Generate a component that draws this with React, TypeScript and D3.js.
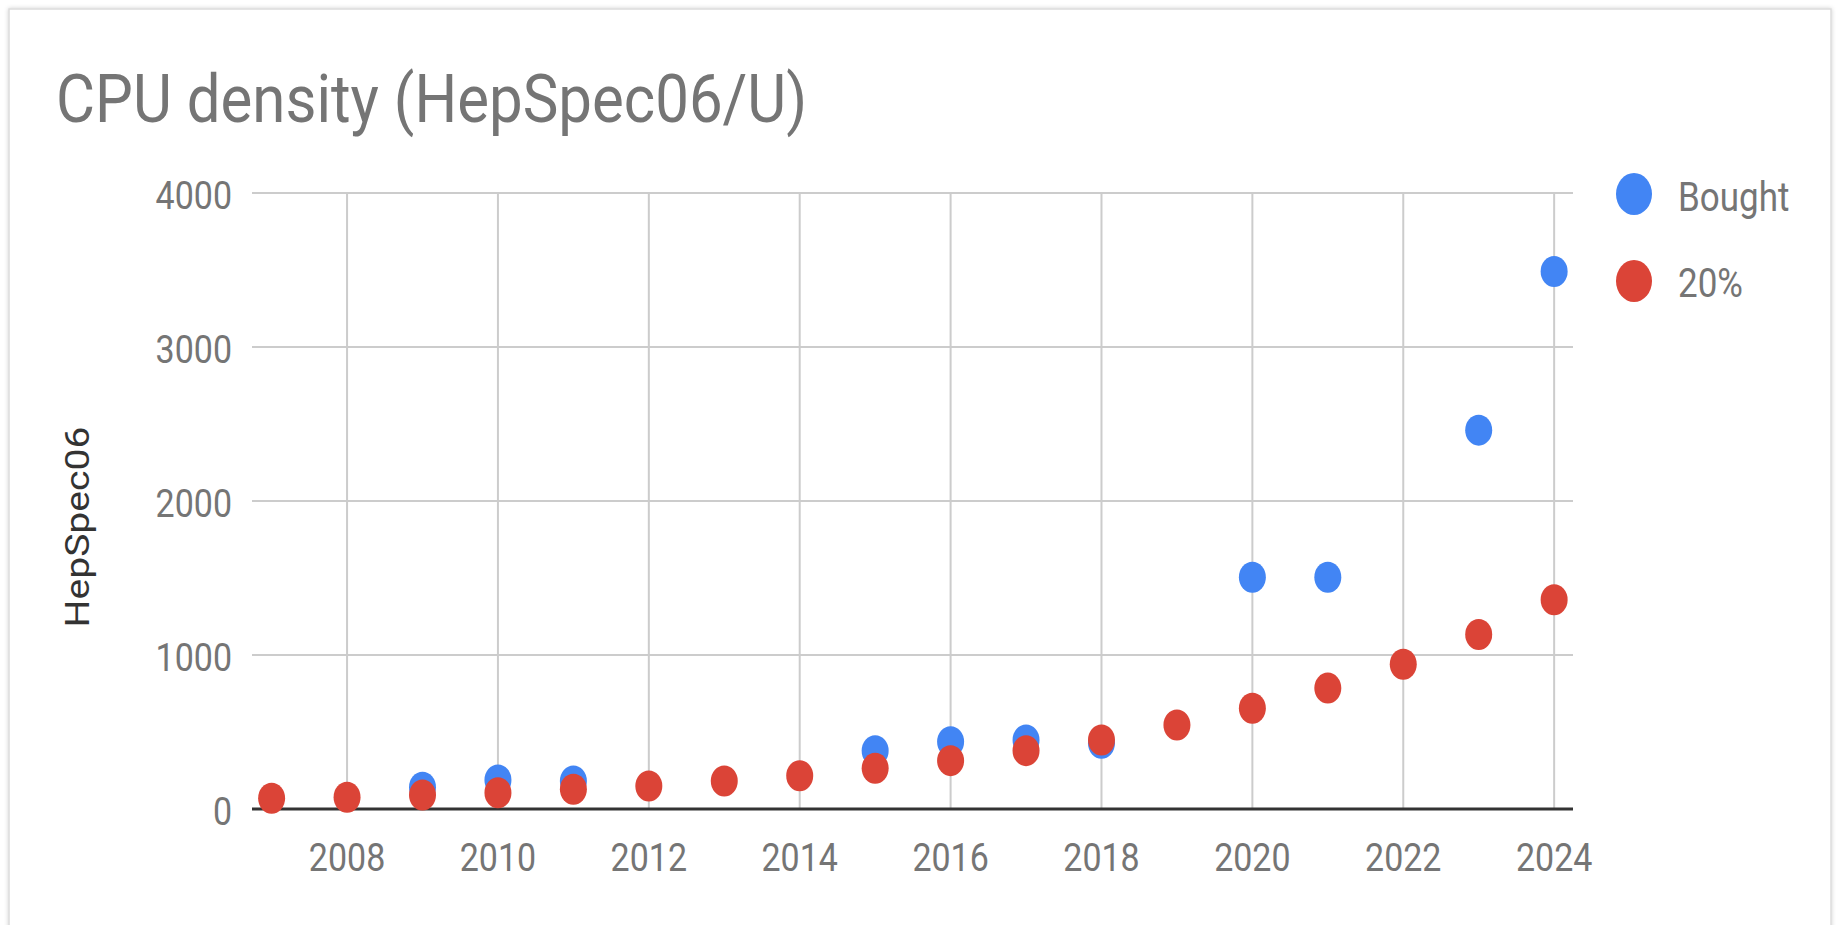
import React from "react";
import * as d3 from "d3";

const years = [2007, 2008, 2009, 2010, 2011, 2012, 2013, 2014, 2015, 2016, 2017, 2018, 2019, 2020, 2021, 2022, 2023, 2024];
const bought: (number | null)[] = [null, null, 141, 188, 182, null, null, null, 379, 437, 448, 427, null, 1505, 1505, null, 2460, 3490];
const growth20: number[] = [70, 76, 91, 105, 128, 149, 182, 216, 264, 314, 379, 448, 545, 654, 785, 940, 1133, 1359];
const xTicks = [2008, 2010, 2012, 2014, 2016, 2018, 2020, 2022, 2024];
const yTicks = [0, 1000, 2000, 3000, 4000];
const seriesNames = ["Bought", "20%"];
const seriesColors = ["#4285F4", "#DB4437"];

const W = 1838;
const H = 925;
const FONT = "Roboto, 'Noto Sans', sans-serif";
const SY = 1.15;

export default function App() {
  const x = d3.scaleLinear().domain([2006.74, 2024.25]).range([252, 1573]);
  const y = d3.scaleLinear().domain([0, 4000]).range([809, 193]);
  const [x0, x1] = x.range();

  const bPts = years
    .map((yr, i) => ({ yr, v: bought[i] }))
    .filter((d) => d.v !== null) as { yr: number; v: number }[];
  const rPts = years.map((yr, i) => ({ yr, v: growth20[i] }));

  return (
    <svg
      width={W}
      height={H}
      style={{ position: "absolute", left: 0, top: 0, display: "block", background: "#fff" }}
      fontFamily={FONT}
    >
      <defs>
        <filter id="sh" x="-5%" y="-5%" width="110%" height="110%">
          <feDropShadow dx="0" dy="0" stdDeviation="2" floodColor="#000" floodOpacity="0.18" />
        </filter>
      </defs>
      <rect x={0} y={0} width={W} height={H} fill="#fff" />
      <rect x={9} y={9} width={1822} height={H + 20} fill="#fff" stroke="#dcdcdc" strokeWidth={1.5} filter="url(#sh)" />

      {/* title */}
      <text
        transform={`translate(56,122) scale(1,${1.12})`}
        fontSize={60}
        fill="#757575"
      >
        CPU density (HepSpec06/U)
      </text>

      {/* horizontal gridlines */}
      {yTicks.filter((t) => t !== 0).map((t) => (
        <line key={"h" + t} x1={x0} x2={x1} y1={y(t)} y2={y(t)} stroke="#cccccc" strokeWidth={2} />
      ))}
      {/* vertical gridlines */}
      {xTicks.map((t) => (
        <line key={"v" + t} x1={x(t)} x2={x(t)} y1={y(4000)} y2={y(0)} stroke="#cccccc" strokeWidth={2} />
      ))}

      {/* y tick labels */}
      {yTicks.map((t) => (
        <text
          key={"yl" + t}
          transform={`translate(232,${y(t) + 16}) scale(1,${SY})`}
          textAnchor="end"
          fontSize={34}
          fill="#757575"
        >
          {t}
        </text>
      ))}
      {/* x tick labels */}
      {xTicks.map((t) => (
        <text
          key={"xl" + t}
          transform={`translate(${x(t)},871) scale(1,${SY})`}
          textAnchor="middle"
          fontSize={34}
          fill="#757575"
        >
          {t}
        </text>
      ))}

      {/* y axis title */}
      <text
        transform={`translate(89,527) scale(1,${SY}) rotate(-90)`}
        textAnchor="middle"
        fontSize={34}
        fill="#333333"
      >
        HepSpec06
      </text>

      {/* baseline */}
      <line x1={x0} x2={x1} y1={y(0)} y2={y(0)} stroke="#333333" strokeWidth={3} />

      {/* points */}
      {bPts.map((d) => (
        <ellipse key={"b" + d.yr} cx={x(d.yr)} cy={y(d.v)} rx={13.5} ry={15.5} fill={seriesColors[0]} />
      ))}
      {rPts.map((d) => (
        <ellipse key={"r" + d.yr} cx={x(d.yr)} cy={y(d.v)} rx={13.5} ry={15.5} fill={seriesColors[1]} />
      ))}

      {/* legend */}
      {seriesNames.map((n, i) => (
        <g key={"lg" + n}>
          <ellipse cx={1634} cy={194 + i * 87} rx={18} ry={21} fill={seriesColors[i]} />
          <text
            transform={`translate(1678,${211 + i * 86}) scale(1,${SY})`}
            fontSize={35}
            fill="#757575"
          >
            {n}
          </text>
        </g>
      ))}
    </svg>
  );
}
